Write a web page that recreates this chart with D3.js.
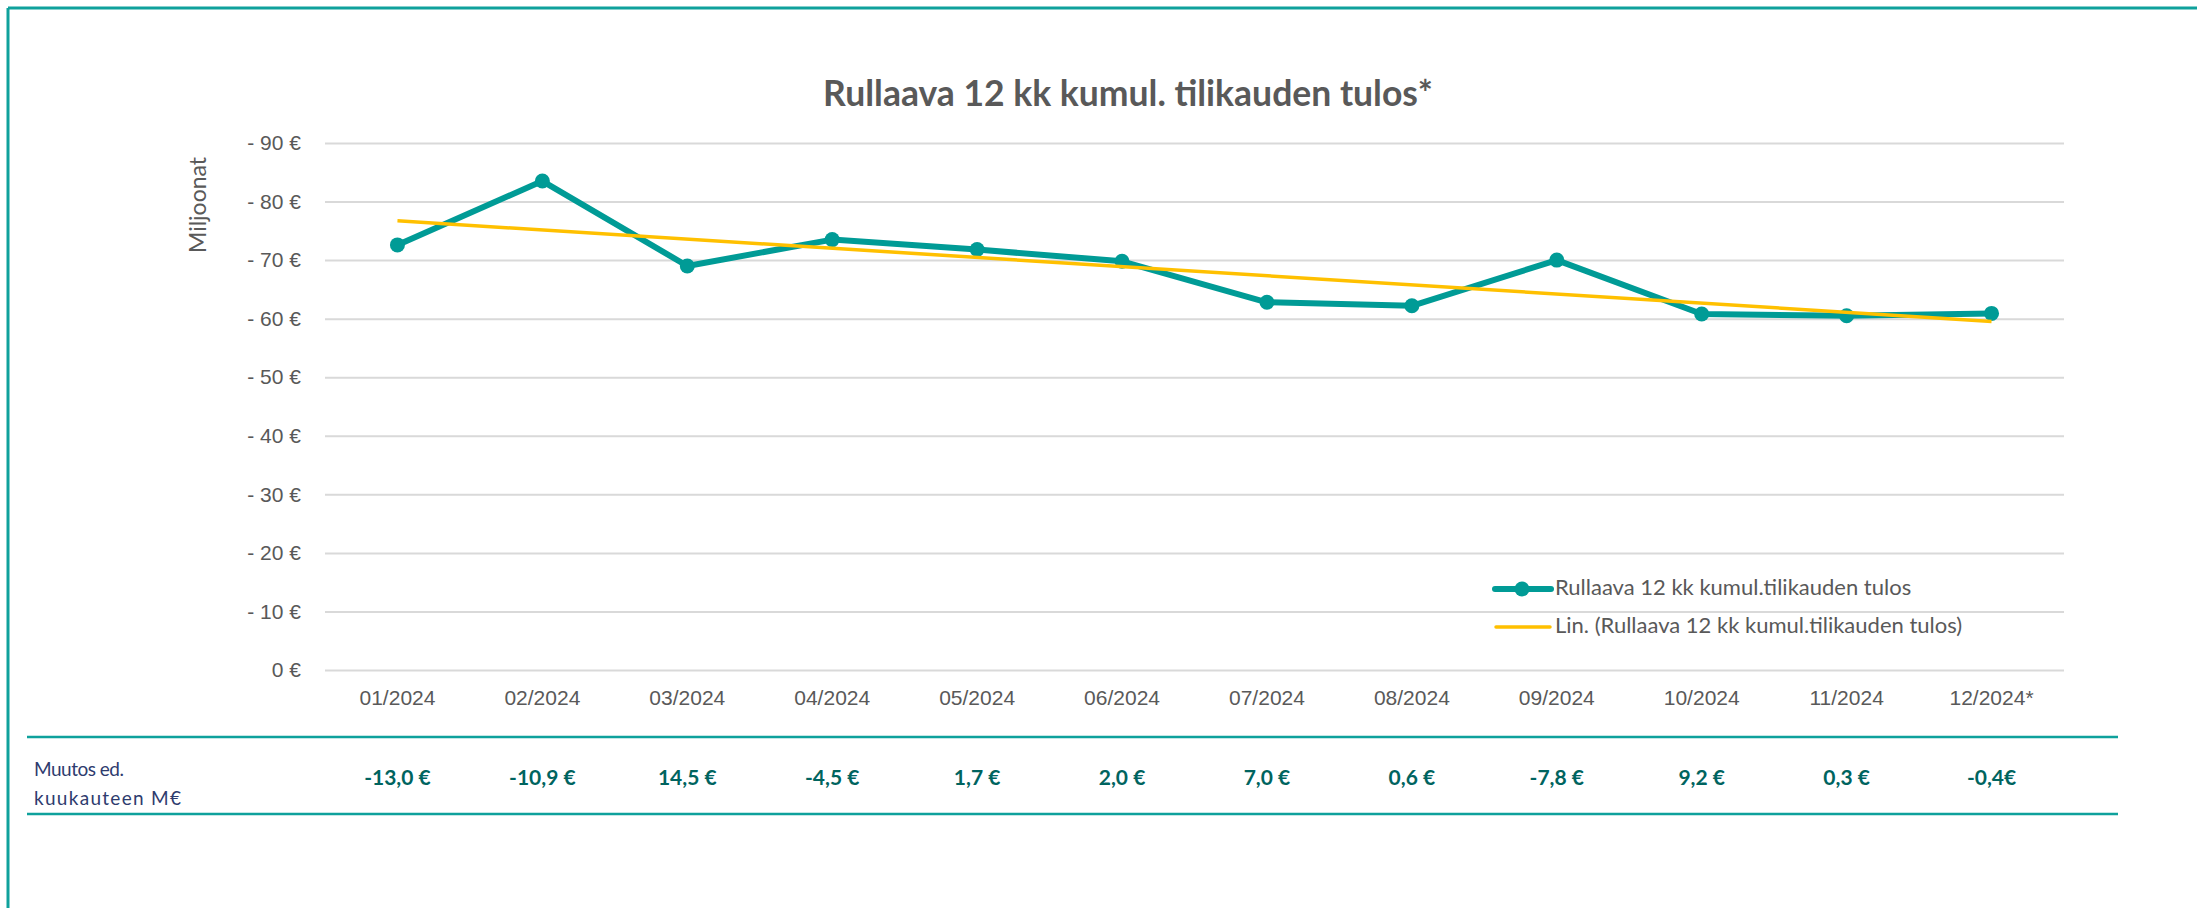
<!DOCTYPE html>
<html>
<head>
<meta charset="utf-8">
<script src="https://cdn.jsdelivr.net/npm/d3@7"></script>
<style>
  html, body { margin: 0; padding: 0; background: #ffffff; }
  svg { display: block; font-family: Lato, "Open Sans", sans-serif; }
</style>
</head>
<body>
<svg id="chart" width="2197" height="908"></svg>
<script>
// ---- data ----
const categories = ["01/2024","02/2024","03/2024","04/2024","05/2024","06/2024","07/2024","08/2024","09/2024","10/2024","11/2024","12/2024*"];
const values = [-72.6, -83.5, -69.0, -73.5, -71.8, -69.8, -62.8, -62.2, -70.0, -60.8, -60.5, -60.9];
const changeLabels = ["-13,0 €","-10,9 €","14,5 €","-4,5 €","1,7 €","2,0 €","7,0 €","0,6 €","-7,8 €","9,2 €","0,3 €","-0,4€"];
const yTicks = [0, -10, -20, -30, -40, -50, -60, -70, -80, -90];
const title = "Rullaava 12 kk kumul. tilikauden tulos*";
const yTitle = "Miljoonat";
const seriesName = "Rullaava 12 kk kumul.tilikauden tulos";
const trendName = "Lin. (Rullaava 12 kk kumul.tilikauden tulos)";
const rowLabel = ["Muutos ed.", "kuukauteen M€"];

// ---- layout ----
const W = 2197, H = 908;
const plot = { left: 325, right: 2064, top: 143, bottom: 670 };
const C = {
  teal: "#009b96", gold: "#ffc000", grid: "#d9d9d9", text: "#595959",
  border: "#0fa19c", change: "#00645f", rowLabel: "#2e3b6e"
};

const svg = d3.select("#chart");

// frame (top + left border)
svg.append("line").attr("x1", 8).attr("x2", W).attr("y1", 8).attr("y2", 8)
  .attr("stroke", C.border).attr("stroke-width", 3);
svg.append("line").attr("x1", 8).attr("x2", 8).attr("y1", 8).attr("y2", H)
  .attr("stroke", C.border).attr("stroke-width", 3);

const x = d3.scaleBand().domain(categories).range([plot.left, plot.right]);
const y = d3.scaleLinear().domain([0, -90]).range([plot.bottom, plot.top]);
const cx = d => x(d) + x.bandwidth() / 2;

// gridlines + y axis
const yAxis = d3.axisLeft(y).tickValues(yTicks)
  .tickSize(-(plot.right - plot.left)).tickPadding(24)
  .tickFormat(d => d === 0 ? "0 €" : "- " + Math.abs(d) + " €");
const gy = svg.append("g").attr("transform", `translate(${plot.left},0)`).call(yAxis);
gy.select(".domain").remove();
gy.selectAll(".tick line").attr("stroke", C.grid).attr("stroke-width", 2);
gy.selectAll(".tick text").attr("fill", C.text).style("font-size", "21px");

// x axis labels
const xAxis = d3.axisBottom(x).tickSize(0).tickPadding(20);
const gx = svg.append("g").attr("transform", `translate(0,${plot.bottom})`).call(xAxis);
gx.select(".domain").remove();
gx.selectAll(".tick text").attr("fill", C.text).style("font-size", "21px");

// title
svg.append("text").attr("x", 1128).attr("y", 97).attr("text-anchor", "middle")
  .attr("dominant-baseline", "middle")
  .attr("fill", C.text).style("font-size", "35.5px").style("font-weight", "bold").text(title);

// y title
svg.append("text").attr("transform", "translate(200,205) rotate(-90)")
  .attr("text-anchor", "middle").attr("dominant-baseline", "middle")
  .attr("fill", C.text).style("font-size", "23px").text(yTitle);

// trend line (least squares)
const xs = values.map((_, i) => i + 1);
const mx = d3.mean(xs), my = d3.mean(values);
const slope = d3.sum(xs, (xi, i) => (xi - mx) * (values[i] - my)) / d3.sum(xs, xi => (xi - mx) ** 2);
const icpt = my - slope * mx;
const trend = categories.map((c, i) => ({ c, v: icpt + slope * (i + 1) }));

const line = d3.line().x(d => cx(d.c)).y(d => y(d.v));
const series = categories.map((c, i) => ({ c, v: values[i] }));

svg.append("path").datum(series).attr("d", line)
  .attr("fill", "none").attr("stroke", C.teal).attr("stroke-width", 6)
  .attr("stroke-linejoin", "round").attr("stroke-linecap", "round");
svg.selectAll("circle.pt").data(series).join("circle").attr("class", "pt")
  .attr("cx", d => cx(d.c)).attr("cy", d => y(d.v)).attr("r", 7.5).attr("fill", C.teal);

svg.append("path").datum([trend[0], trend[trend.length - 1]]).attr("d", line)
  .attr("fill", "none").attr("stroke", C.gold).attr("stroke-width", 3.5);

// legend
const lg = svg.append("g").attr("transform", "translate(1495,589)");
lg.append("line").attr("x1", 0).attr("x2", 56).attr("y1", 0).attr("y2", 0)
  .attr("stroke", C.teal).attr("stroke-width", 6).attr("stroke-linecap", "round");
lg.append("circle").attr("cx", 27).attr("cy", 0).attr("r", 7.5).attr("fill", C.teal);
lg.append("text").attr("x", 60).attr("y", 0).attr("dominant-baseline", "middle")
  .attr("fill", C.text).style("font-size", "22px").text(seriesName);
lg.append("line").attr("x1", 1).attr("x2", 55).attr("y1", 38).attr("y2", 38)
  .attr("stroke", C.gold).attr("stroke-width", 3.5).attr("stroke-linecap", "round");
lg.append("text").attr("x", 60).attr("y", 38).attr("dominant-baseline", "middle")
  .attr("fill", C.text).style("font-size", "22px").text(trendName);

// table rows
[737, 814].forEach(yy => {
  svg.append("line").attr("x1", 27).attr("x2", 2118).attr("y1", yy).attr("y2", yy)
    .attr("stroke", C.border).attr("stroke-width", 2.5);
});
svg.append("text").attr("x", 34).attr("y", 776).attr("fill", C.rowLabel)
  .style("font-size", "19px").style("letter-spacing", "-0.5px").text(rowLabel[0]);
svg.append("text").attr("x", 34).attr("y", 805).attr("fill", C.rowLabel)
  .style("font-size", "19px").attr("textLength", 147).attr("lengthAdjust", "spacing")
  .text(rowLabel[1]);

svg.selectAll("text.chg").data(categories).join("text").attr("class", "chg")
  .attr("x", d => cx(d)).attr("y", 780).attr("text-anchor", "middle")
  .attr("dominant-baseline", "middle").attr("fill", C.change)
  .style("font-size", "21px").style("font-weight", "bold")
  .text((d, i) => changeLabels[i]);
</script>
</body>
</html>
